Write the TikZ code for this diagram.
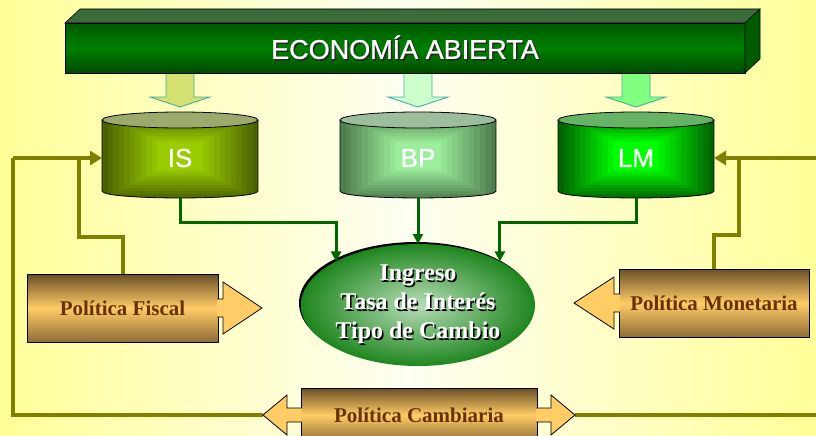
\documentclass[tikz,border=0pt]{standalone}
\usepackage{fontspec}
\setmainfont{Liberation Serif}
\newfontfamily\arialf[FakeBold=0.9]{Liberation Sans}
\usetikzlibrary{arrows.meta,shapes.geometric}
\definecolor{bgE}{HTML}{FFFF99}
\definecolor{bgC}{HTML}{FFFFF2}
\definecolor{bnT}{HTML}{005800}
\definecolor{bnM}{HTML}{008000}
\definecolor{bnB}{HTML}{004A00}
\definecolor{bnTop}{HTML}{3A6B3A}
\definecolor{bnSide}{HTML}{005A00}
\definecolor{isE}{HTML}{4A6200}
\definecolor{isC}{HTML}{9ACC00}
\definecolor{isT}{HTML}{9DAA6E}
\definecolor{bpE}{HTML}{4E7D4E}
\definecolor{bpC}{HTML}{9CEE9C}
\definecolor{bpT}{HTML}{9DBE9D}
\definecolor{lmE}{HTML}{006400}
\definecolor{lmC}{HTML}{00FF00}
\definecolor{lmT}{HTML}{66B366}
\definecolor{arrIS}{HTML}{D4E070}
\definecolor{arrBP}{HTML}{CCFFCC}
\definecolor{arrLM}{HTML}{80FF80}
\definecolor{tealc}{HTML}{3FAFA0}
\definecolor{olv}{HTML}{808000}
\definecolor{grn}{HTML}{006600}
\definecolor{elIn}{HTML}{B8DDB8}
\definecolor{elOut}{HTML}{1E861E}
\definecolor{polT}{HTML}{6A4E26}
\definecolor{polM}{HTML}{FFCC66}
\definecolor{polB}{HTML}{8E6C36}
\definecolor{polH}{HTML}{FFCC66}
\definecolor{polTxt}{HTML}{663300}
\newcommand\shtxt[2][black]{\leavevmode\rlap{\kern1.5pt\raisebox{-1.5pt}{\textcolor{#1}{#2}}}#2}
\newcommand\cylinder[4]{%
  \begin{scope}
    \path[clip] (#1-78,120) -- (#1-78,191) .. controls (#1-78,200.3) and (#1+78,200.3) .. (#1+78,191) -- (#1+78,120) -- cycle;
    \foreach \i in {0,...,10}{
      \pgfmathtruncatemacro\pc{\i*10}
      \fill[#3!\pc!#2] ({#1-78+\i*5.5},{112+\i*3}) rectangle ({#1+78-\i*5.5},{200-\i*3});
    }
  \end{scope}
  \draw[black,line width=0.8pt] (#1-78,120) -- (#1-78,191) .. controls (#1-78,200.3) and (#1+78,200.3) .. (#1+78,191) -- (#1+78,120);
  \filldraw[fill=#4,draw=black,line width=0.8pt] (#1,120) ellipse [x radius=78,y radius=8];
}
\begin{document}
\begin{tikzpicture}[x=1pt,y=-1pt,
  oline/.style={draw=olv,line width=4pt},
  oarr/.style={oline,-{Triangle[length=12pt,width=14pt]}},
  garr/.style={draw=grn,line width=3pt,-{Triangle[length=10pt,width=10pt]}},
  blockarr/.style={draw=tealc,line width=0.8pt},
  cyllabel/.style={minimum width=156pt,minimum height=80pt,inner sep=0,outer sep=0,text=white,font=\arialf\fontsize{26}{30}\selectfont},
  policy/.style={draw=black,line width=0.8pt,top color=polT,bottom color=polB,middle color=polM,inner sep=0,outer sep=0,text=polTxt,font=\bfseries\fontsize{21}{25}\selectfont},
  phead/.style={fill=polH,draw=black,line width=0.8pt,line join=miter}
]
\useasboundingbox (0,0) rectangle (816,436);
\shade[left color=bgE,right color=bgE,middle color=bgC] (0,0) rectangle (816,436);

% label nodes (positions for cylinders)
\path (180,158) node[cyllabel] (is) {}
      (418,158) node[cyllabel] (bp) {}
      (636,158) node[cyllabel] (lm) {};
\coordinate (ecoS) at (405,73);

% block arrows from banner
\filldraw[blockarr,fill=arrIS] (is.north |- ecoS) ++(-14,-2) -- ++(0,26) -- ++(-16,0) -- ++(30,10) -- ++(30,-10) -- ++(-16,0) -- ++(0,-26);
\filldraw[blockarr,fill=arrBP] (bp.north |- ecoS) ++(-14,-2) -- ++(0,26) -- ++(-16,0) -- ++(30,10) -- ++(30,-10) -- ++(-16,0) -- ++(0,-26);
\filldraw[blockarr,fill=arrLM] (lm.north |- ecoS) ++(-14,-2) -- ++(0,26) -- ++(-16,0) -- ++(30,10) -- ++(30,-10) -- ++(-16,0) -- ++(0,-26);

% banner
\node[draw=black,line width=0.6pt,minimum width=680pt,minimum height=50pt,inner sep=0,outer sep=0,
      top color=bnT,bottom color=bnB,middle color=bnM,text=white,
      font=\arialf\fontsize{27}{32}\selectfont] (eco) at (405,48) {\shtxt[black!85]{ECONOMÍA ABIERTA}};
\filldraw[fill=bnTop,draw=black,line width=0.6pt] (eco.north west) -- ++(15,-14) -- ++(680,0) -- (eco.north east) -- cycle;
\filldraw[fill=bnSide,draw=black,line width=0.6pt] (eco.north east) -- ++(15,-14) -- ++(0,50) -- (eco.south east) -- cycle;

% cylinders
\cylinder{180}{isE}{isC}{isT}
\cylinder{418}{bpE}{bpC}{bpT}
\cylinder{636}{lmE}{lmC}{lmT}
\path (is) node[cyllabel] {IS} (bp) node[cyllabel] {BP} (lm) node[cyllabel] {LM};

% central ellipse
\fill[black] (416,303) ellipse [x radius=117,y radius=61];
\node[ellipse,minimum width=234pt,minimum height=122pt,inner sep=0,outer sep=0,
      inner color=elIn,outer color=elOut,text=white,align=center,
      font=\bfseries\fontsize{24}{29}\selectfont] (ell) at (418,305)
      {\shtxt{Ingreso}\\\shtxt{Tasa de Interés}\\\shtxt{Tipo de Cambio}};

% green connectors
\draw[garr] (is.south) -- ++(0,24) -| (ell.152);
\draw[garr] (bp.south) -- (ell.north);
\draw[garr] (lm.south) -- ++(0,24) -| (ell.28);

% policy boxes
\node[policy,minimum width=191pt,minimum height=68pt] (fis) at (122.5,308) {Política Fiscal};
\node[policy,minimum width=190pt,minimum height=68pt] (mon) at (714,303) {Política Monetaria};
\node[policy,minimum width=236pt,minimum height=54pt] (cam) at (419,415) {Política Cambiaria};

% olive lines
\coordinate (camL) at ([xshift=-38pt]cam.west);
\coordinate (camR) at ([xshift=38pt]cam.east);
\draw[oline] (camL) -| (13,158);
\draw[oarr] (13,158) -- (is.west);
\draw[oline] (fis.north) |- (79,237) -- (79,158);
\draw[oline] (mon.north) |- (739,235) -- (739,158);
\draw[oarr] (816,158) -- (lm.east);
\draw[oline] (camR) -- (816,415);

% arrow heads of the policy boxes
\filldraw[phead] ([shift={(-1,-9)}]fis.east) -- ++(6,0) -- ++(0,-17) -- ++(39,26) -- ++(-39,26) -- ++(0,-17) -- ++(-6,0);
\filldraw[phead] ([shift={(1,-9)}]mon.west) -- ++(-6,0) -- ++(0,-17) -- ++(-40,26) -- ++(40,26) -- ++(0,-17) -- ++(6,0);
\filldraw[phead] ([shift={(1,-7)}]cam.west) -- ++(-15,0) -- ++(0,-13) -- ++(-24,20) -- ++(24,20) -- ++(0,-13) -- ++(15,0);
\filldraw[phead] ([shift={(-1,-7)}]cam.east) -- ++(15,0) -- ++(0,-13) -- ++(24,20) -- ++(-24,20) -- ++(0,-13) -- ++(-15,0);
\end{tikzpicture}
\end{document}
